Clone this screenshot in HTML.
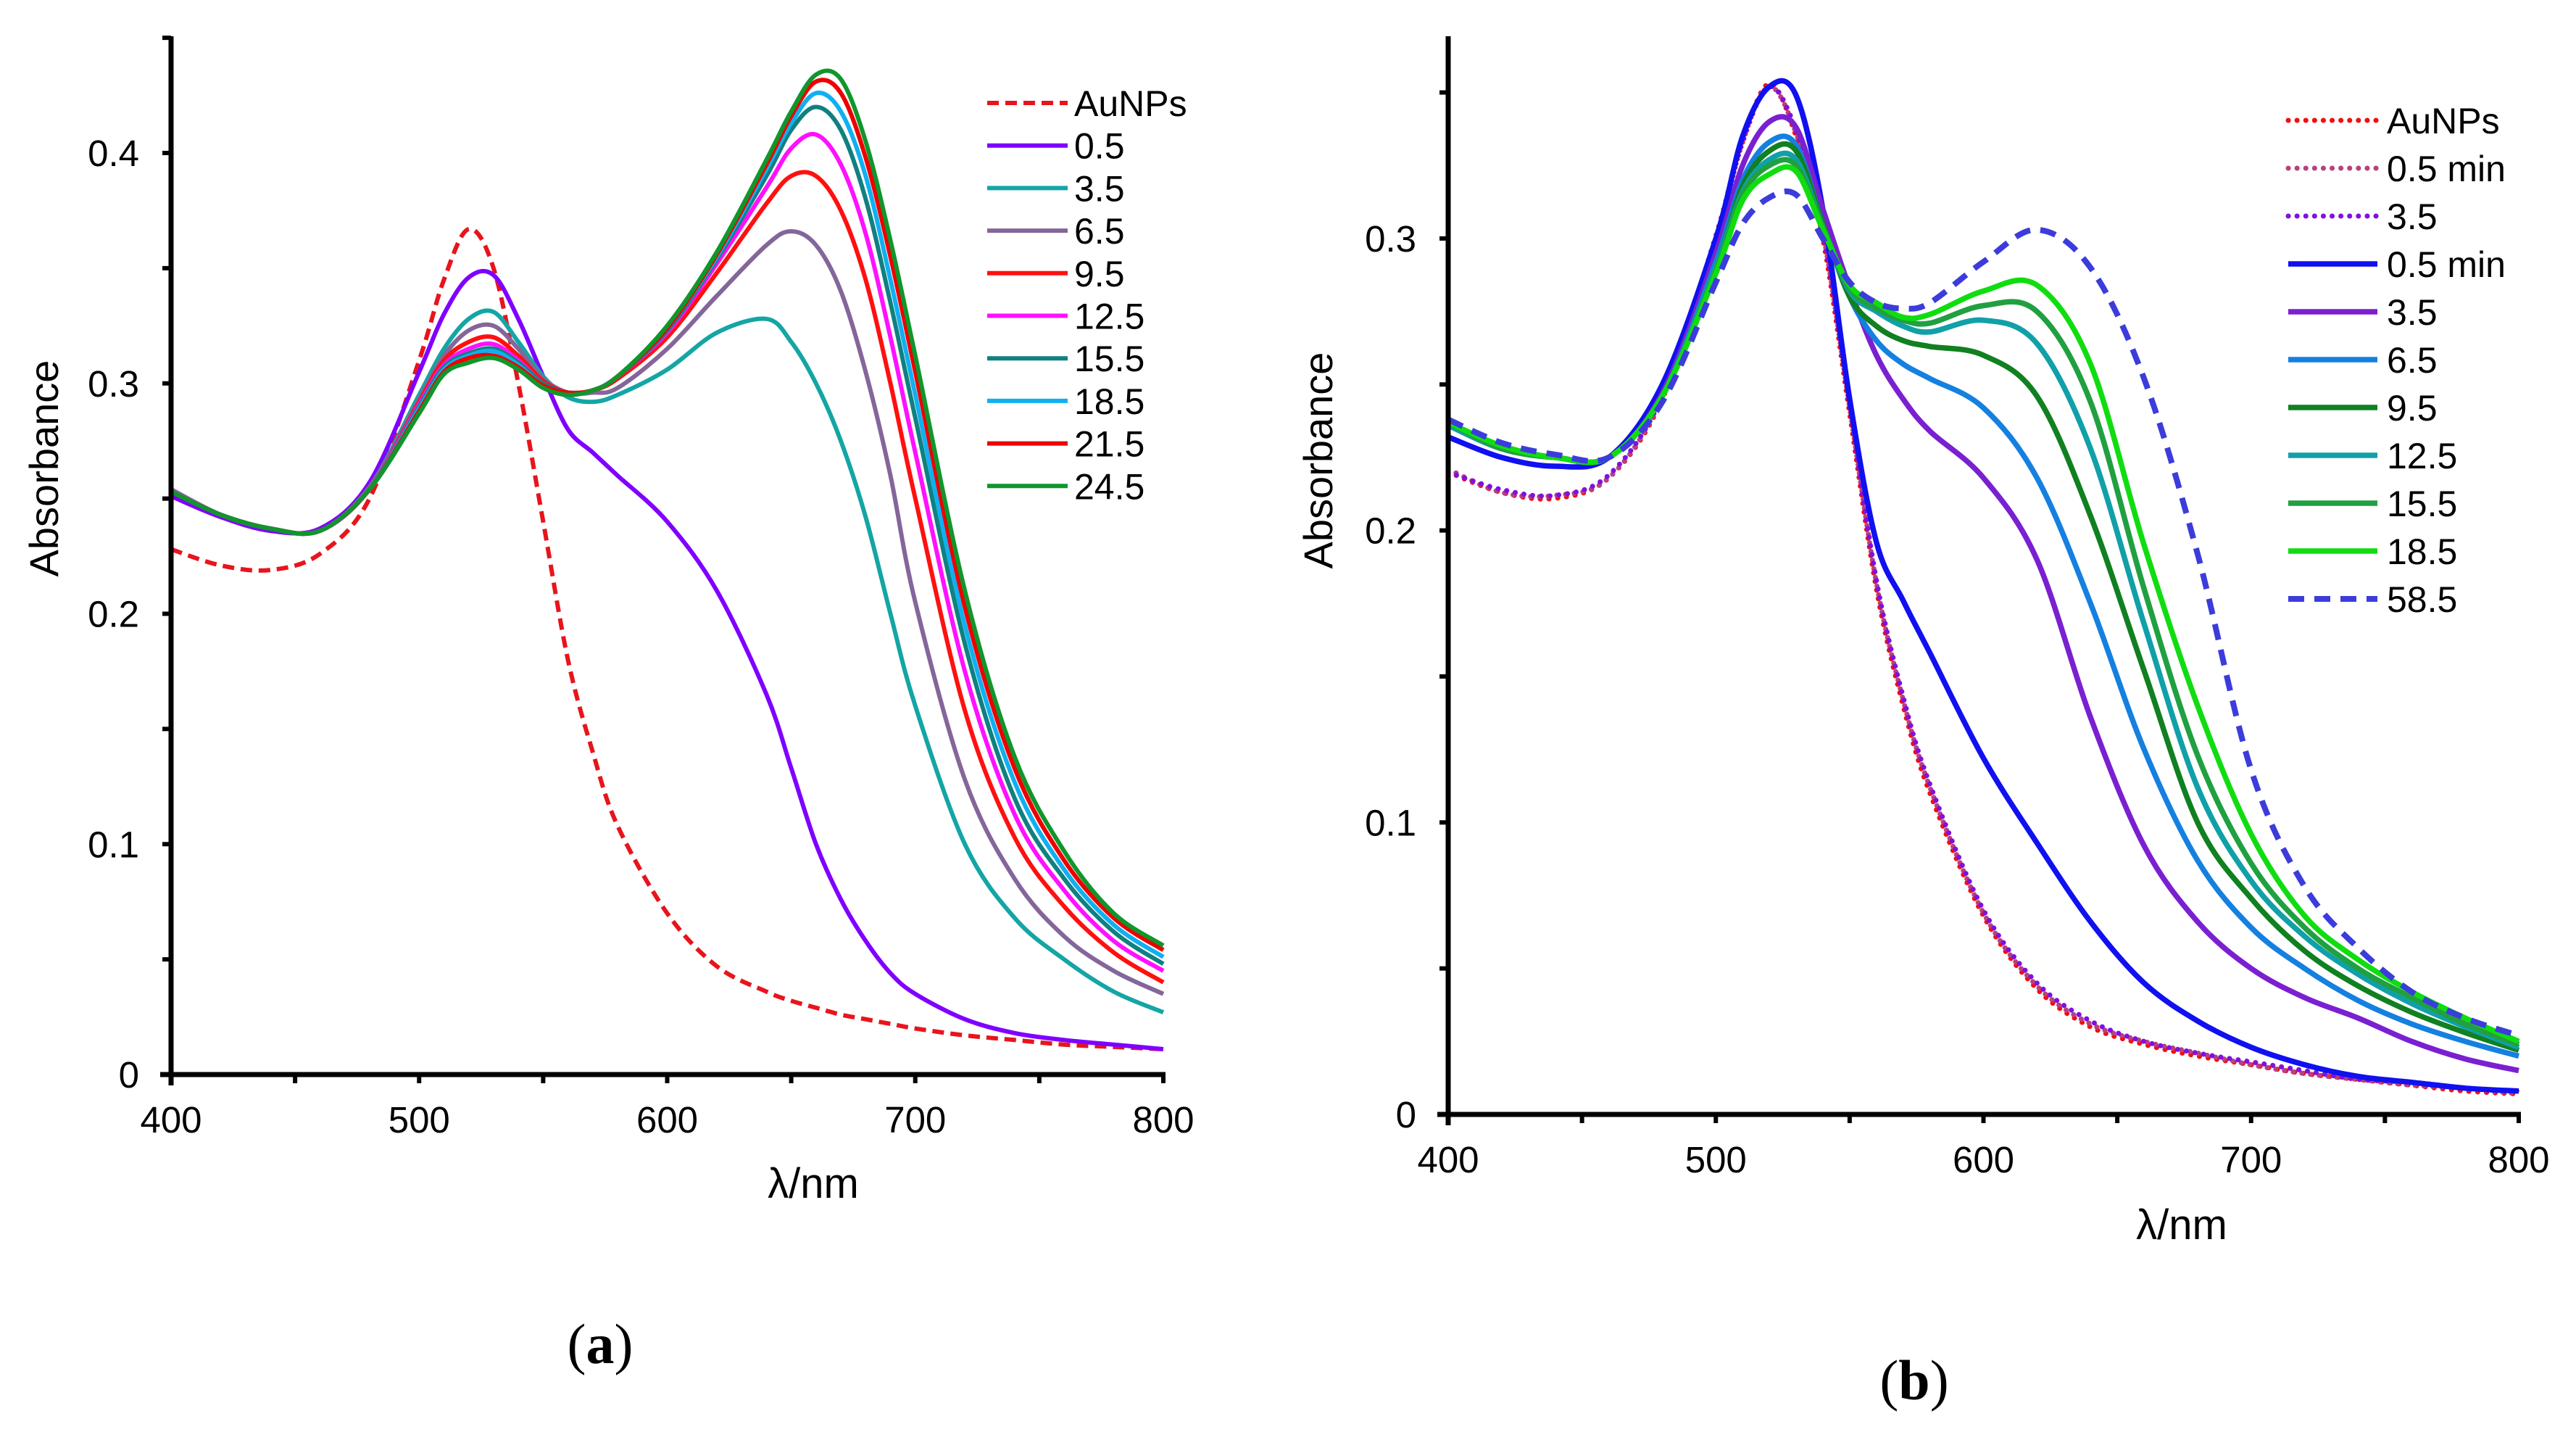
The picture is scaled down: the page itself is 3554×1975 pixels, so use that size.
<!DOCTYPE html>
<html><head><meta charset="utf-8"><style>
html,body{margin:0;padding:0;background:#fff;}
svg{display:block;font-family:"Liberation Sans",Arial,sans-serif;}
</style></head><body>
<svg id="fig" width="3554" height="1975" viewBox="0 0 3554 1975" xmlns="http://www.w3.org/2000/svg">
<g id="chartA"></g>
<g id="chartB"></g>
</svg>
<script>
// ---------- Chart (a) data ----------
const wlA = [400,420,440,460,480,500,510,520,530,540,550,560,570,580,600,620,640,650,660,670,680,690,700,720,740,760,780,800];
const namesA = ["AuNPs","0.5","3.5","6.5","9.5","12.5","15.5","18.5","21.5","24.5"];
const a_AuNPs = [0.228,0.221,0.219,0.226,0.25,0.31,0.345,0.367,0.35,0.30,0.24,0.18,0.14,0.108,0.07,0.047,0.036,0.032,0.029,0.026,0.024,0.022,0.020,0.017,0.015,0.013,0.012,0.011];
const a_05 = [0.251,0.242,0.236,0.237,0.257,0.305,0.33,0.346,0.347,0.328,0.303,0.28,0.27,0.26,0.24,0.21,0.165,0.133,0.1,0.076,0.058,0.044,0.035,0.024,0.018,0.015,0.013,0.011];
const a_35 = [0.254,0.243,0.237,0.236,0.255,0.295,0.315,0.328,0.331,0.318,0.303,0.294,0.292,0.295,0.306,0.322,0.328,0.318,0.3,0.275,0.242,0.2,0.16,0.1,0.068,0.05,0.036,0.027];
const a_65 = [0.254,0.243,0.237,0.236,0.255,0.293,0.312,0.323,0.325,0.315,0.302,0.296,0.296,0.298,0.315,0.338,0.36,0.366,0.36,0.34,0.305,0.26,0.205,0.128,0.085,0.06,0.045,0.035];
const a_95 = [0.253,0.243,0.237,0.236,0.254,0.292,0.31,0.318,0.32,0.312,0.301,0.296,0.297,0.302,0.32,0.348,0.378,0.39,0.39,0.375,0.345,0.3,0.25,0.158,0.103,0.073,0.053,0.040];
const a_125 = [0.253,0.243,0.237,0.236,0.254,0.291,0.308,0.315,0.317,0.31,0.3,0.296,0.297,0.303,0.322,0.352,0.385,0.402,0.408,0.395,0.365,0.32,0.27,0.175,0.113,0.08,0.058,0.045];
const a_155 = [0.253,0.243,0.237,0.236,0.254,0.29,0.307,0.313,0.315,0.309,0.3,0.296,0.297,0.303,0.323,0.354,0.39,0.41,0.42,0.41,0.38,0.335,0.285,0.187,0.12,0.085,0.062,0.048];
const a_185 = [0.253,0.243,0.237,0.236,0.254,0.289,0.306,0.312,0.314,0.308,0.299,0.296,0.297,0.303,0.324,0.355,0.393,0.413,0.426,0.418,0.39,0.345,0.295,0.195,0.127,0.089,0.065,0.051];
const a_215 = [0.253,0.243,0.237,0.236,0.254,0.288,0.305,0.311,0.312,0.307,0.299,0.296,0.297,0.303,0.324,0.356,0.395,0.416,0.431,0.426,0.398,0.355,0.305,0.203,0.133,0.093,0.068,0.054];
const a_245 = [0.253,0.243,0.237,0.236,0.254,0.287,0.304,0.309,0.311,0.306,0.298,0.295,0.297,0.303,0.325,0.357,0.397,0.418,0.434,0.432,0.405,0.362,0.312,0.21,0.138,0.097,0.07,0.056];
const xTicksA = [400,500,600,700,800];
const yTicksA = [0,0.1,0.2,0.3,0.4];

// ---------- Chart (b) data ----------
const wlB = [400,420,440,460,480,500,510,520,530,540,550,560,570,580,600,620,640,660,680,700,720,740,760,780,800];
const namesB = ["AuNPs","0.5 min","3.5","0.5 min","3.5","6.5","9.5","12.5","15.5","18.5","58.5"];
const b_AuNPs = [0.22,0.213,0.211,0.218,0.245,0.3,0.333,0.353,0.335,0.30,0.24,0.18,0.14,0.11,0.068,0.043,0.03,0.024,0.02,0.017,0.014,0.012,0.01,0.008,0.007];
const b_05dot = [0.221,0.213,0.212,0.218,0.246,0.301,0.334,0.352,0.336,0.302,0.242,0.182,0.142,0.112,0.069,0.044,0.031,0.025,0.021,0.017,0.014,0.012,0.01,0.009,0.007];
const b_35dot = [0.22,0.214,0.212,0.219,0.246,0.3,0.333,0.352,0.337,0.303,0.243,0.183,0.143,0.113,0.07,0.045,0.032,0.025,0.021,0.018,0.015,0.012,0.011,0.009,0.008];
const b_05 = [0.232,0.225,0.222,0.225,0.25,0.3,0.335,0.352,0.349,0.31,0.245,0.196,0.176,0.158,0.122,0.093,0.066,0.045,0.032,0.023,0.017,0.013,0.011,0.009,0.008];
const b_35 = [0.236,0.228,0.225,0.225,0.247,0.295,0.325,0.34,0.338,0.31,0.283,0.26,0.245,0.234,0.218,0.19,0.136,0.092,0.066,0.05,0.04,0.033,0.025,0.019,0.015];
const b_65 = [0.236,0.228,0.225,0.225,0.246,0.292,0.32,0.333,0.332,0.305,0.28,0.265,0.257,0.252,0.242,0.218,0.175,0.125,0.087,0.064,0.05,0.039,0.031,0.025,0.02];
const b_95 = [0.236,0.228,0.225,0.225,0.246,0.29,0.318,0.33,0.33,0.305,0.28,0.27,0.265,0.263,0.26,0.246,0.205,0.152,0.1,0.074,0.056,0.044,0.035,0.028,0.022];
const b_125 = [0.236,0.228,0.225,0.225,0.246,0.29,0.316,0.327,0.327,0.304,0.282,0.275,0.27,0.268,0.272,0.264,0.228,0.168,0.112,0.08,0.061,0.048,0.038,0.03,0.023];
const b_155 = [0.237,0.228,0.225,0.225,0.246,0.289,0.315,0.325,0.325,0.304,0.283,0.276,0.272,0.271,0.277,0.275,0.244,0.18,0.123,0.086,0.064,0.05,0.04,0.031,0.024];
const b_185 = [0.237,0.229,0.225,0.225,0.246,0.288,0.313,0.322,0.323,0.303,0.284,0.278,0.273,0.274,0.282,0.284,0.257,0.195,0.14,0.096,0.068,0.053,0.042,0.033,0.025];
const b_585 = [0.238,0.23,0.226,0.225,0.244,0.285,0.305,0.314,0.315,0.3,0.285,0.278,0.276,0.278,0.292,0.303,0.29,0.252,0.192,0.118,0.078,0.057,0.042,0.033,0.027];
const xTicksB = [400,500,600,700,800];
const yTicksB = [0,0.1,0.2,0.3];

const SVGNS = "http://www.w3.org/2000/svg";
function mk(parent, tag, attrs){
  const e = document.createElementNS(SVGNS, tag);
  for (const k in attrs) e.setAttribute(k, attrs[k]);
  parent.appendChild(e);
  return e;
}
function smoothPath(xs, ys){
  let d = "M" + xs[0].toFixed(1) + "," + ys[0].toFixed(1);
  for (let i = 0; i < xs.length - 1; i++){
    const x0 = xs[Math.max(i-1,0)], y0 = ys[Math.max(i-1,0)];
    const x1 = xs[i], y1 = ys[i], x2 = xs[i+1], y2 = ys[i+1];
    const x3 = xs[Math.min(i+2,xs.length-1)], y3 = ys[Math.min(i+2,xs.length-1)];
    const c1x = x1 + (x2 - x0)/6, c1y = y1 + (y2 - y0)/6;
    const c2x = x2 - (x3 - x1)/6, c2y = y2 - (y3 - y1)/6;
    d += " C" + c1x.toFixed(1) + "," + c1y.toFixed(1) + " " + c2x.toFixed(1) + "," + c2y.toFixed(1) + " " + x2.toFixed(1) + "," + y2.toFixed(1);
  }
  return d;
}

function drawChart(g, cfg){
  const xS = v => cfg.x0 + (v - 400) * (cfg.x1 - cfg.x0) / 400;
  const yS = v => cfg.y0 - v * cfg.yUnit;
  cfg.series.forEach((s, i) => {
    const p = mk(g, "path", {d: smoothPath(cfg.wl.map(xS), s.vals.map(yS)), fill: "none", stroke: s.color, "stroke-width": s.w || cfg.lw, "stroke-dasharray": s.dash || "none", "stroke-linejoin": "round", "stroke-linecap": s.dash && s.dash.startsWith("0") ? "round" : "butt"});
    
    
  });
  const ax = mk(g, "line", {x1: cfg.x0, y1: cfg.y0 + 15, x2: cfg.x0, y2: cfg.top, stroke: "#000", "stroke-width": 7});
  
  
  const axx = mk(g, "line", {x1: cfg.x0 - 15, y1: cfg.y0, x2: cfg.x1 + 3, y2: cfg.y0, stroke: "#000", "stroke-width": 7});
  
  
  for (let v = 450; v <= 800; v += 50){
    const t = mk(g, "line", {x1: xS(v), y1: cfg.y0, x2: xS(v), y2: cfg.y0 + 12, stroke: "#000", "stroke-width": 6});
    
    
  }
  for (let k = 1; k <= cfg.nMinor; k++){
    const v = k * 0.05;
    const t = mk(g, "line", {x1: cfg.x0, y1: yS(v), x2: cfg.x0 - 12, y2: yS(v), stroke: "#000", "stroke-width": 6});
    
    
  }
  cfg.xTicks.forEach(v => {
    const t = mk(g, "text", {x: xS(v), y: cfg.y0 + 80, "font-size": 51, "text-anchor": "middle", fill: "#000"});
    t.textContent = String(v);
    
    
  });
  cfg.yTicks.forEach(v => {
    const t = mk(g, "text", {x: cfg.x0 - 44, y: yS(v) + 18, "font-size": 51, "text-anchor": "end", fill: "#000"});
    t.textContent = String(v);
    
    
  });
  const yt = mk(g, "text", {x: 0, y: 0, "font-size": 56, "text-anchor": "middle", fill: "#000", transform: "translate(" + cfg.ytX + "," + cfg.ytY + ") rotate(-90)"});
  yt.textContent = "Absorbance";
  
  
  const xt = mk(g, "text", {x: cfg.xtX, y: cfg.xtY, "font-size": 58, "text-anchor": "middle", fill: "#000"});
  xt.textContent = "λ/nm";
  
  
  const pl = mk(g, "text", {x: cfg.plX, y: cfg.plY, "font-size": 78, "text-anchor": "middle", fill: "#000", "font-family": "Liberation Serif, serif"});
  pl.innerHTML = "(<tspan font-weight='bold'>" + cfg.panel + "</tspan>)";
  
  
  cfg.series.forEach((s, i) => {
    const y = cfg.legY + i * cfg.legStep;
    const lg = mk(g, "g", {});
    
    
    mk(lg, "line", {x1: cfg.legX1, y1: y, x2: cfg.legX2, y2: y, stroke: s.color, "stroke-width": s.w || cfg.lw, "stroke-dasharray": s.dash || "none", "stroke-linecap": s.dash && s.dash.startsWith("0") ? "round" : "butt"});
    const t = mk(lg, "text", {x: cfg.legTX, y: y + 18, "font-size": 50, fill: "#000"});
    t.textContent = s.name;
  });
}

drawChart(document.getElementById("chartA"), {
  x0: 236, x1: 1605, y0: 1482, yUnit: 3177.5, top: 50, nMinor: 9, lw: 6,
  wl: wlA, xTicks: xTicksA, yTicks: yTicksA,
  ytX: 80, ytY: 646, xtX: 1122, xtY: 1652, plX: 828, plY: 1880, panel: "a",
  legX1: 1362, legX2: 1473, legTX: 1482, legY: 142, legStep: 58.7,
  series: [
    {key:"aunps", name:namesA[0], vals:a_AuNPs, color:"#e8141c", dash:"16 9"},
    {key:"0-5", name:namesA[1], vals:a_05, color:"#7f00ff"},
    {key:"3-5", name:namesA[2], vals:a_35, color:"#14a5a5"},
    {key:"6-5", name:namesA[3], vals:a_65, color:"#84669a"},
    {key:"9-5", name:namesA[4], vals:a_95, color:"#ff1010"},
    {key:"12-5", name:namesA[5], vals:a_125, color:"#ff10ff"},
    {key:"15-5", name:namesA[6], vals:a_155, color:"#108080"},
    {key:"18-5", name:namesA[7], vals:a_185, color:"#10b0f0"},
    {key:"21-5", name:namesA[8], vals:a_215, color:"#ee0000"},
    {key:"24-5", name:namesA[9], vals:a_245, color:"#10962c"}
  ]
});

drawChart(document.getElementById("chartB"), {
  x0: 1998, x1: 3475, y0: 1537, yUnit: 4027, top: 50, nMinor: 7, lw: 7.5,
  wl: wlB, xTicks: xTicksB, yTicks: yTicksB,
  ytX: 1838, ytY: 635, xtX: 3010, xtY: 1709, plX: 2641, plY: 1930, panel: "b",
  legX1: 3157, legX2: 3280, legTX: 3293, legY: 166, legStep: 66,
  series: [
    {key:"b-aunps", name:namesB[0], vals:b_AuNPs, color:"#f01010", dash:"0.1 12", w:7},
    {key:"b-0-5-dotted", name:namesB[1], vals:b_05dot, color:"#b84080", dash:"0.1 12", w:7},
    {key:"b-3-5-dotted", name:namesB[2], vals:b_35dot, color:"#8010e0", dash:"0.1 12", w:7},
    {key:"b-0-5", name:namesB[3], vals:b_05, color:"#1010f0"},
    {key:"b-3-5", name:namesB[4], vals:b_35, color:"#7a20d0"},
    {key:"b-6-5", name:namesB[5], vals:b_65, color:"#1480e0"},
    {key:"b-9-5", name:namesB[6], vals:b_95, color:"#108020"},
    {key:"b-12-5", name:namesB[7], vals:b_125, color:"#10a0a8"},
    {key:"b-15-5", name:namesB[8], vals:b_155, color:"#20a040"},
    {key:"b-18-5", name:namesB[9], vals:b_185, color:"#10dd10"},
    {key:"b-58-5", name:namesB[10], vals:b_585, color:"#3c3cdc", dash:"22 14", w:8}
  ]
});
</script>
</body></html>
